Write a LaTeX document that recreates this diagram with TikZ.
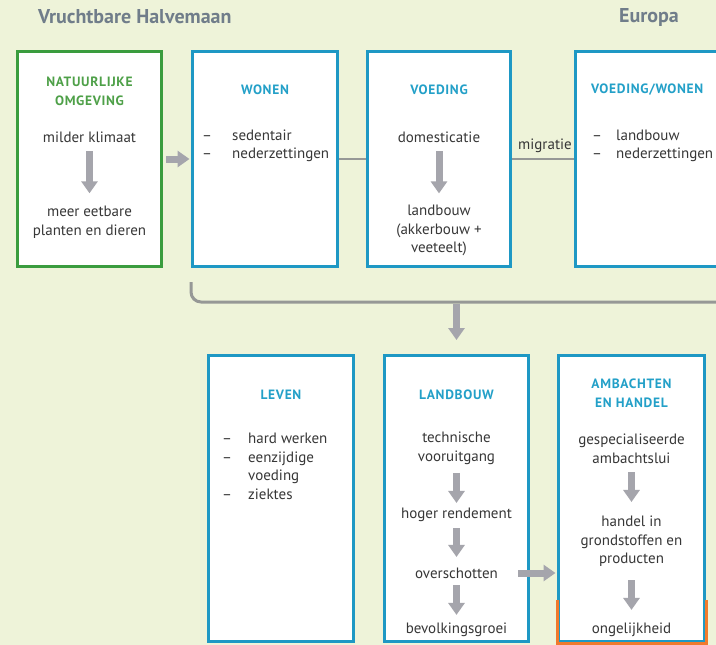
\documentclass[tikz,border=0pt]{standalone}
\usepackage{fontspec}
\setmainfont{PT Sans}
\usetikzlibrary{arrows.meta}
\definecolor{bg}{RGB}{238,243,217}
\definecolor{boxblue}{RGB}{30,152,196}
\definecolor{boxgreen}{RGB}{58,156,62}
\definecolor{hblue}{RGB}{35,160,200}
\definecolor{hgreen}{RGB}{78,160,72}
\definecolor{arrowgray}{RGB}{165,165,172}
\definecolor{linegray}{RGB}{150,152,150}
\definecolor{textgray}{RGB}{55,55,55}
\definecolor{titlegray}{RGB}{112,125,138}
\definecolor{boxorange}{RGB}{240,122,45}
\begin{document}
\begin{tikzpicture}[x=1pt,y=-1pt,
  box/.style={draw=boxblue, line width=3pt, fill=white, inner sep=0pt},
  greenbox/.style={box, draw=boxgreen},
  txt/.style={font=\fontsize{15}{18.5}\selectfont, text=textgray, align=center, inner sep=0pt},
  hd/.style={font=\bfseries\fontsize{13.5}{19}\selectfont\addfontfeatures{LetterSpace=5}, text=hblue, align=center, inner sep=0pt},
  ttl/.style={font=\bfseries\fontsize{20}{22}\selectfont, text=titlegray, inner sep=0pt},
  garrow/.style={draw=arrowgray, line width=7pt, -{Triangle[length=12pt,width=16pt]}},
  thinline/.style={draw=linegray, line width=2pt},
  bracket/.style={draw=linegray, line width=3pt, rounded corners=10pt}
]
\useasboundingbox[fill=bg] (0,0) rectangle (716,645);

% titles
\node[ttl, anchor=west] (tvh) at (38,17) {Vruchtbare Halvemaan};
\node[ttl] (teu) at (649,17) {Europa};

% top boxes
\node[greenbox, minimum width=144pt, minimum height=215pt] (b1) at (89.5,159) {};
\node[box, minimum width=145pt, minimum height=215pt] (b2) at (265,159) {};
\node[box, minimum width=143pt, minimum height=215pt] (b3) at (439,159) {};
\node[box, minimum width=200pt, minimum height=215pt] (b4) at (675.5,159) {};

% bottom boxes
\node[box, minimum width=145pt, minimum height=286pt] (lv) at (281,498.5) {};
\node[box, minimum width=144pt, minimum height=286pt] (lb) at (456.5,498.5) {};
\node[box, minimum width=146pt, minimum height=286pt] (amb) at (631.5,498.5) {};
\draw[draw=boxorange, line width=3pt]
  ([yshift=43.5pt]amb.south west) -- (amb.south west) -- (amb.south east) -- ([yshift=43.5pt]amb.south east);

% box 1
\node[hd, text=hgreen] (h1) at (89.5,91) {NATUURLIJKE\\OMGEVING};
\node[txt] (t1a) at (89.5,137) {milder klimaat};
\node[txt] (t1b) at (89.5,222) {meer eetbare\\planten en dieren};
\draw[garrow, shorten <=8.5pt, shorten >=12.5pt] (t1a) -- (t1b);

% box 2
\node[hd] (h2) at (265,90) {WONEN};
\node[txt, anchor=west, align=left] (l2) at (202,146)
  {\begin{tabular}{@{}p{30pt}@{}l@{}}–&sedentair\\–&nederzettingen\end{tabular}};

% box 3
\node[hd] (h3) at (439,90) {VOEDING};
\node[txt] (t3a) at (439,137) {domesticatie};
\node[txt] (t3b) at (439,230.5) {landbouw\\(akkerbouw +\\veeteelt)};
\draw[garrow, shorten <=8.5pt, shorten >=11.5pt] (t3a) -- (t3b);

% box 4
\node[hd, anchor=west] (h4) at (591,90) {VOEDING/WONEN};
\node[txt, anchor=west, align=left] (l4) at (592,146)
  {\begin{tabular}{@{}p{24pt}@{}l@{}}–&landbouw\\–&nederzettingen\end{tabular}};

% connections top row
\draw[garrow, shorten <=3pt, shorten >=1.5pt] (b1) -- (b2);
\draw[thinline] (b2) -- (b3);
\draw[thinline] (b3) -- (b4);
\node[txt] (mig) at (545,146) {migratie};

% bracket
\coordinate (bl) at (191,282);
\coordinate (br) at (730,302);
\coordinate (bm) at (456.5,302);
\draw[bracket] (bl) |- (br);
\draw[garrow, shorten <=1.5pt, shorten >=14pt] (bm) -- (lb.north);

% LEVEN
\node[hd] (h5) at (281,395) {LEVEN};
\node[txt, anchor=west, align=left] (l5) at (222,468)
  {\begin{tabular}{@{}p{26pt}@{}l@{}}–&hard werken\\–&eenzijdige\\&voeding\\–&ziektes\end{tabular}};

% LANDBOUW
\node[hd] (h6) at (456.5,395) {LANDBOUW};
\node[txt] (t6a) at (456.5,448.5) {technische\\vooruitgang};
\node[txt] (t6b) at (456.5,515) {hoger rendement};
\node[txt] (t6c) at (456.5,573) {overschotten};
\node[txt] (t6d) at (456.5,630) {bevolkingsgroei};
\draw[garrow, shorten <=8pt, shorten >=5pt] (t6a) -- (t6b);
\draw[garrow, shorten <=6pt, shorten >=10.5pt] (t6b) -- (t6c);
\draw[garrow, shorten <=6.5pt, shorten >=8pt] (t6c) -- (t6d);

% AMBACHTEN
\node[hd] (h7) at (631.5,393.5) {AMBACHTEN\\EN HANDEL};
\node[txt] (t7a) at (631.5,449) {gespecialiseerde\\ambachtslui};
\node[txt] (t7b) at (631.5,541.5) {handel in\\grondstoffen en\\producten};
\node[txt] (t7c) at (631.5,630) {ongelijkheid};
\draw[garrow, shorten <=8.5pt, shorten >=14pt] (t7a) -- (t7b);
\draw[garrow, shorten <=13pt, shorten >=13pt] (t7b) -- (t7c);

% overschotten -> ambachten
\draw[garrow, shorten <=-12pt, shorten >=1.5pt] (lb.east |- t6c) -- (amb.west |- t6c);
\end{tikzpicture}
\end{document}
